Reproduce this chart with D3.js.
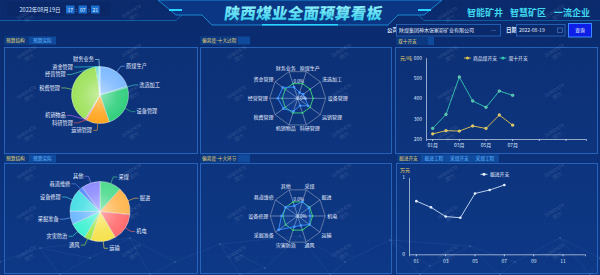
<!DOCTYPE html>
<html><head><meta charset="utf-8">
<script src="https://cdn.jsdelivr.net/npm/d3@7"></script>
<style>
html,body{margin:0;padding:0;background:#0b2e74;overflow:hidden}
svg{display:block;font-family:"Noto Sans CJK SC","Noto Sans",sans-serif}
</style></head><body><svg id="c" width="600" height="275"></svg>
<script>
// ---------- data ----------
const titleText = "陕西煤业全面预算看板";
const slogans = ["智能矿井","智慧矿区","一流企业"];
const dateText = "2022年08月19日";
const timeParts = ["17","07","21"];
const companyLabel = "公司";
const companyName = "陕煤集团神木张家峁矿业有限公司";
const dateLabel = "日期";
const queryDate = "2022-08-19";
const buttonText = "查询";

const structTabs = ["预算结构","预算实际"];
const processTab = "偏离度-十大过程";
const linkTab = "偏离度-十大环节";
const costTab = "双十开支";
const tunnelTabs = ["掘进开支","掘进工程","采煤开支","采煤工程"];

const processNames = ["原煤生产","洗选加工","设备管理","运销管理","科研管理","机销物品","税费管理","经营管理","资金管理","财务业务"];
const processShare = [72,3,86,47,2.5,1.5,139,3,3,3];
const processDeviation = [0.22,0.24,0.27,0.46,0.28,0.49,0.63,0.71,0.66,0.42];
const processBaseline = [0.55,0.55,0.55,0.55,0.55,0.55,0.55,0.55,0.55,0.55];

const linkNames = ["采煤","掘进","机电","运输","通风","灾害防治","采掘准备","设备修理","巷道维修","其他"];
const linkShare = [42,54,53.5,48.5,13,34,26,44,9,36];
const linkDeviation = [0.55,0.5,0.46,0.53,0.36,0.41,0.86,0.59,0.54,0.39];
const linkBaseline = [0.54,0.54,0.54,0.54,0.54,0.54,0.54,0.54,0.54,0.54];
const radarTopLabel = "0.0%";
const radarCenterLabel = "-0.0%";

const months = ["01月","02月","03月","04月","05月","06月","07月","08月","09月","10月","11月","12月"];
const coalCost = [225,241,239,264,252,318,268];
const doubleTenCost = [252,321,505,387,356,436,415];
const costTicks = [200,300,400,500,600];
const costSeries = ["商品煤开支","双十开支"];
const costUnit = "元/吨";

const monthsShort = ["01","02","03","04","05","06","07","08","09","10","11","12"];
const tunnelCost = [0.69,0.61,0.49,0.475,0.79,0.835,0.9];
const tunnelTicks = [0,1];
const tunnelSeries = "掘进开支";
const tunnelUnit = "万元";

const watermark = ["16000470","团力"];

// ---------- palettes ----------
const processColors = ["#7db9ff","#3fd6d0","#2fcf7c","#ffa51e","#ff5a5a","#c86bff","#9ee25c","#4fe3b5","#37e0ea","#9af0f4"];
const linkColors = ["#4edb8e","#ffb64f","#ff6b6e","#f6e24c","#9ee84c","#3ff2d2","#6db8ff","#47dfe4","#5a8cff","#8d8cff"];

// ---------- canvas ----------
const svg = d3.select("#c");
const defs = svg.append("defs");
const bg = defs.append("linearGradient").attr("id","bg").attr("x1",0).attr("y1",0).attr("x2",0).attr("y2",1);
bg.append("stop").attr("offset","0%").attr("stop-color","#0a2a6c");
bg.append("stop").attr("offset","100%").attr("stop-color","#0c3582");
svg.append("rect").attr("width",600).attr("height",275).attr("fill","url(#bg)");

const glow = defs.append("radialGradient").attr("id","pieGlow");
glow.append("stop").attr("offset","0%").attr("stop-color","#fff").attr("stop-opacity",0.45);
glow.append("stop").attr("offset","60%").attr("stop-color","#fff").attr("stop-opacity",0.12);
glow.append("stop").attr("offset","100%").attr("stop-color","#fff").attr("stop-opacity",0);

const tg = defs.append("linearGradient").attr("id","titleG").attr("x1",0).attr("y1",0).attr("x2",0).attr("y2",1);
tg.append("stop").attr("offset","0%").attr("stop-color","#a8fbff");
tg.append("stop").attr("offset","100%").attr("stop-color","#22c6ea");

// grid
const grid = svg.append("g").attr("stroke","#3a70c8").attr("stroke-opacity",0.13).attr("stroke-width",0.5);
d3.range(0,601,16).forEach(x=>grid.append("line").attr("x1",x).attr("x2",x).attr("y1",0).attr("y2",275));
d3.range(0,276,16).forEach(y=>grid.append("line").attr("y1",y).attr("y2",y).attr("x1",0).attr("x2",600));

// decorative network at bottom
const net = svg.append("g").attr("stroke","#6ea8e8").attr("stroke-opacity",0.22).attr("stroke-width",0.5).attr("fill","none");
const netPts = [[0,262],[40,248],[90,258],[130,238],[175,262],[220,244],[265,268],[300,236],[345,262],[390,240],[430,266],[470,246],[515,262],[560,238],[600,258],[60,275],[150,275],[240,275],[330,275],[420,275],[500,275],[590,275]];
const netLinks = [[0,1],[1,2],[2,3],[3,4],[4,5],[5,6],[6,7],[7,8],[8,9],[9,10],[10,11],[11,12],[12,13],[13,14],[1,15],[2,15],[3,16],[4,16],[5,17],[6,17],[7,18],[8,18],[9,19],[10,19],[11,20],[12,20],[13,21],[14,21],[1,3],[5,7],[9,11]];
netLinks.forEach(([a,b])=>net.append("line").attr("x1",netPts[a][0]).attr("y1",netPts[a][1]).attr("x2",netPts[b][0]).attr("y2",netPts[b][1]));
netPts.forEach(p=>svg.append("circle").attr("cx",p[0]).attr("cy",p[1]).attr("r",0.8).attr("fill","#8fc4ff").attr("opacity",0.4));

// ---------- header ----------
svg.append("path").attr("d","M158,0 L442,0 L424,15 L398,15 L388,25 L212,25 L202,15 L176,15 Z")
  .attr("fill","#0a3684").attr("stroke","#1e9fe8").attr("stroke-width",0.8);
svg.append("path").attr("d","M0,20.5 L176,20.5 L182,15").attr("stroke","#1e9fe8").attr("stroke-opacity",0.6).attr("fill","none").attr("stroke-width",0.7);
svg.append("path").attr("d","M600,20.5 L424,20.5 L418,15").attr("stroke","#1e9fe8").attr("stroke-opacity",0.6).attr("fill","none").attr("stroke-width",0.7);
svg.append("rect").attr("x",169).attr("y",9).attr("width",13).attr("height",2).attr("fill","#29d3ff");
svg.append("rect").attr("x",418).attr("y",9).attr("width",13).attr("height",2).attr("fill","#29d3ff");
svg.append("rect").attr("x",262).attr("y",24).attr("width",76).attr("height",1.5).attr("fill","#29d3ff");
svg.append("text").attr("x",303).attr("y",19.5).attr("text-anchor","middle").attr("font-size",15.5).attr("font-weight",900)
  .attr("letter-spacing",0.3).attr("fill","url(#titleG)").attr("transform","skewX(-8) translate(2.5,0)").text(titleText);

// date/time
svg.append("rect").attr("x",7).attr("y",2).attr("width",103).attr("height",14).attr("fill","#0a2766").attr("opacity",0.8);
svg.append("text").attr("x",40).attr("y",12).attr("text-anchor","middle").attr("font-size",5.5).attr("fill","#dfe8ff").text(dateText);
timeParts.forEach((t,i)=>{
  const x = 66 + i*12.5;
  svg.append("rect").attr("x",x).attr("y",5.5).attr("width",8.5).attr("height",8).attr("fill","#1a6fd0");
  svg.append("text").attr("x",x+4.25).attr("y",11.5).attr("text-anchor","middle").attr("font-size",5).attr("fill","#e8f4ff").text(t);
  if(i<2) svg.append("text").attr("x",x+10.5).attr("y",11.5).attr("text-anchor","middle").attr("font-size",5).attr("fill","#8fc0ff").text(":");
});

// slogans
const sloganX = [467,510,554];
slogans.forEach((s,i)=>svg.append("text").attr("x",sloganX[i]).attr("y",16).attr("font-size",9).attr("font-weight",700).attr("fill","#3fd8ee").text(s));

// query row
svg.append("text").attr("x",387).attr("y",32).attr("font-size",5.5).attr("font-weight",700).attr("fill","#e6eeff").text(companyLabel);
svg.append("rect").attr("x",396.5).attr("y",24.5).attr("width",104).attr("height",11.5).attr("fill","#0a2a6c").attr("stroke","#2b6bc4").attr("stroke-width",0.8);
svg.append("text").attr("x",399).attr("y",32).attr("font-size",5).attr("fill","#e6eeff").text(companyName);
svg.append("text").attr("x",491).attr("y",31.5).attr("font-size",5).attr("fill","#8aa8d8").text("…");
svg.append("text").attr("x",506).attr("y",32).attr("font-size",5.5).attr("font-weight",700).attr("fill","#e6eeff").text(dateLabel);
svg.append("rect").attr("x",516.5).attr("y",24.5).attr("width",48.5).attr("height",11.5).attr("fill","#0a2a6c").attr("stroke","#2b6bc4").attr("stroke-width",0.8);
svg.append("text").attr("x",519).attr("y",32).attr("font-size",5).attr("fill","#e6eeff").text(queryDate);
svg.append("rect").attr("x",557.5).attr("y",28).attr("width",5).attr("height",4.5).attr("fill","none").attr("stroke","#4f86d6").attr("stroke-width",0.6);
svg.append("rect").attr("x",568.5).attr("y",23.5).attr("width",23).attr("height",13.5).attr("fill","#0d1fe6").attr("stroke","#3c8cff").attr("stroke-width",1);
svg.append("text").attr("x",580).attr("y",32.2).attr("text-anchor","middle").attr("font-size",4.8).attr("fill","#ffffff").text(buttonText);

// ---------- panels ----------
function panel(x0,y0,x1,y1){
  svg.append("rect").attr("x",x0+0.5).attr("y",y0+0.5).attr("width",x1-x0).attr("height",y1-y0)
    .attr("fill","rgba(20,70,150,0.18)").attr("stroke","#2a68c0").attr("stroke-width",0.9);
}
function tabs(x,y,labels,w,stripW){
  svg.append("rect").attr("x",x).attr("y",y).attr("width",stripW).attr("height",8).attr("fill","#0f4a9c");
  labels.forEach((t,i)=>{
    const tx = x + i*w;
    if(i===0) svg.append("rect").attr("x",tx).attr("y",y).attr("width",w-2).attr("height",8).attr("fill","#0b387e");
    svg.append("text").attr("x",tx+2).attr("y",y+5.6).attr("font-size",4.7).attr("fill",i===0?"#e7d678":"#63b6ff").text(t);
  });
}
panel(4,47,197,153); panel(200,47,391,153); panel(395,47,597,153);
panel(4,163,197,273); panel(200,163,391,273); panel(396,163,597,273);
tabs(4,36.5,structTabs,27,52);
tabs(200,36.5,[processTab],40,50);
tabs(396,37,[costTab],34,38);
tabs(4,154.5,structTabs,27,52);
tabs(200,154.5,[linkTab],40,50);
tabs(397,154.5,tunnelTabs,25.5,102);

// ---------- pie ----------
function pie(cx,cy,r,names,vals,colors){
  const arcs = d3.pie().sort(null).value(d=>d)(vals);
  const arcGen = d3.arc().innerRadius(0).outerRadius(r);
  const gp = svg.append("g").attr("transform",`translate(${cx},${cy})`);
  gp.selectAll("path.s").data(arcs).join("path").attr("class","s").attr("d",arcGen)
    .attr("fill",(d,i)=>colors[i]).attr("stroke","rgba(255,255,255,0.75)").attr("stroke-width",0.5);
  gp.append("circle").attr("r",r).attr("fill","url(#pieGlow)");
  const len1 = 7, len2 = 4, gap = 7.5, R2 = r+len1;
  const L = arcs.map((a,i)=>{
    const m=(a.startAngle+a.endAngle)/2;
    return {i,m,side:Math.sin(m)>=0?1:-1,x0:R2*Math.sin(m),y:-R2*Math.cos(m),upper:Math.cos(m)>=0};
  });
  [1,-1].forEach(side=>{
    const up = L.filter(d=>d.side===side&&d.upper).sort((a,b)=>a.y-b.y);
    for(let k=1;k<up.length;k++) if(up[k].y<up[k-1].y+gap) up[k].y=up[k-1].y+gap;
    const lo = L.filter(d=>d.side===side&&!d.upper).sort((a,b)=>b.y-a.y);
    for(let k=1;k<lo.length;k++) if(lo[k].y>lo[k-1].y-gap) lo[k].y=lo[k-1].y-gap;
  });
  L.forEach(d=>{
    const x = Math.abs(d.y)<R2 ? d.side*Math.sqrt(R2*R2-d.y*d.y) : d.x0;
    const ex = r*Math.sin(d.m), ey = -r*Math.cos(d.m);
    gp.append("polyline").attr("points",`${ex},${ey} ${x},${d.y} ${x+d.side*len2},${d.y}`)
      .attr("fill","none").attr("stroke",colors[d.i]).attr("stroke-width",0.6);
    gp.append("text").attr("x",x+d.side*(len2+1.2)).attr("y",d.y).attr("dy","0.35em")
      .attr("text-anchor",d.side>0?"start":"end").attr("font-size",5.2).attr("fill","#e8efff").text(names[d.i]);
  });
}
pie(100,95,28.5,processNames,processShare,processColors);
pie(100,211.5,30,linkNames,linkShare,linkColors);

// ---------- radar ----------
function radar(cx,cy,R,names,vals,base){
  const n = names.length;
  const ang = i=>(18+36*i)*Math.PI/180;
  const rs = d3.scaleLinear().domain([0,1]).range([0,R]);
  const pt = (i,v)=>[cx+rs(v)*Math.sin(ang(i)), cy-rs(v)*Math.cos(ang(i))];
  const line = d3.line().curve(d3.curveLinearClosed);
  const gr = svg.append("g");
  gr.append("path").attr("d",line(d3.range(n).map(i=>pt(i,1)))).attr("fill","none").attr("stroke","#7f90b0").attr("stroke-width",0.7);
  d3.range(n).forEach(i=>{const p=pt(i,1);gr.append("line").attr("x1",cx).attr("y1",cy).attr("x2",p[0]).attr("y2",p[1]).attr("stroke","#b9c6dc").attr("stroke-width",0.5);});
  gr.append("path").attr("d",line(base.map((v,i)=>pt(i,v)))).attr("fill","none").attr("stroke","#3fd47c").attr("stroke-width",0.9);
  base.forEach((v,i)=>{const p=pt(i,v);gr.append("circle").attr("cx",p[0]).attr("cy",p[1]).attr("r",0.9).attr("fill","#3fd47c");});
  gr.append("path").attr("d",line(vals.map((v,i)=>pt(i,v)))).attr("fill","rgba(58,142,255,0.12)").attr("stroke","#3a8eff").attr("stroke-width",0.9);
  vals.forEach((v,i)=>{const p=pt(i,v);gr.append("circle").attr("cx",p[0]).attr("cy",p[1]).attr("r",1.3).attr("fill","#4a9aff");});
  gr.append("text").attr("x",cx+1).attr("y",cy-15).attr("font-size",4.5).attr("fill","#e6eeff").attr("text-anchor","middle").text(radarTopLabel);
  gr.append("text").attr("x",cx+3).attr("y",cy+1.5).attr("font-size",4.5).attr("fill","#e6eeff").attr("text-anchor","middle").text(radarCenterLabel);
  names.forEach((t,i)=>{
    const a = ang(i), s = Math.sin(a), c = Math.cos(a);
    const vert = Math.abs(s)<0.35;
    const x = cx+(R+2)*s*(vert?1.3:1), y = cy-(R+2)*c;
    const anchor = vert ? "middle" : (s>0?"start":"end");
    const dy = c>0.5 ? "0.05em" : (c<-0.5 ? "0.65em" : "0.35em");
    gr.append("text").attr("x",x).attr("y",y).attr("dy",dy).attr("text-anchor",anchor).attr("font-size",5).attr("fill","#e8efff").text(t);
  });
}
radar(297.7,98.3,28,processNames,processDeviation,processBaseline);
radar(297.7,216,27.5,linkNames,linkDeviation,linkBaseline);

// ---------- line chart: 双十开支 ----------
(function(){
  const x = d3.scaleBand().domain(months).range([426,586]);
  const y = d3.scaleLinear().domain([200,600]).range([139,57.7]);
  const cxm = (d,i)=>x(months[i])+x.bandwidth()/2;
  const gA = svg.append("g");
  const ya = gA.append("g").attr("transform","translate(426,0)").call(d3.axisLeft(y).tickValues(costTicks).tickSize(0).tickPadding(4));
  const xa = gA.append("g").attr("transform","translate(0,139)").call(d3.axisBottom(x).tickValues(months.filter((d,i)=>i%2===0)).tickSize(2).tickPadding(2).tickFormat((d,i)=>i<4?d:""));
  [ya,xa].forEach(a=>{a.select(".domain").attr("stroke","#b7c6e0").attr("stroke-width",0.8);a.selectAll("line").attr("stroke","#b7c6e0");
    a.selectAll("text").attr("font-size",5).attr("fill","#dbe6fa").attr("font-family","Noto Sans CJK SC");});
  gA.append("text").attr("x",406).attr("y",59.5).attr("font-size",5).attr("fill","#e8d46a").attr("text-anchor","middle").text(costUnit);
  const ln = d3.line().x((d,i)=>cxm(d,i)).y(d=>y(d));
  const sets = [[coalCost,"#e4c649"],[doubleTenCost,"#33c9b3"]];
  sets.forEach(([arr,col])=>{
    gA.append("path").attr("d",ln(arr)).attr("fill","none").attr("stroke",col).attr("stroke-width",0.9);
    arr.forEach((v,i)=>gA.append("circle").attr("cx",cxm(v,i)).attr("cy",y(v)).attr("r",1.4).attr("fill",col).attr("stroke","#f4f0c0").attr("stroke-width",0.3));
  });
  const lx = [467.5,503];
  costSeries.forEach((s,i)=>{
    gA.append("line").attr("x1",lx[i]-3.5).attr("x2",lx[i]+3.5).attr("y1",58).attr("y2",58).attr("stroke",sets[i][1]).attr("stroke-width",0.9);
    gA.append("circle").attr("cx",lx[i]).attr("cy",58).attr("r",1.5).attr("fill",sets[i][1]);
    gA.append("text").attr("x",lx[i]+5.5).attr("y",58).attr("dy","0.35em").attr("font-size",4.8).attr("fill","#e6eeff").text(s);
  });
})();

// ---------- line chart: 掘进开支 ----------
(function(){
  const x = d3.scaleBand().domain(monthsShort).range([409,585]);
  const y = d3.scaleLinear().domain([0,1]).range([254.3,177.3]);
  const cxm = i=>x(monthsShort[i])+x.bandwidth()/2;
  const gB = svg.append("g");
  const ya = gB.append("g").attr("transform","translate(409,0)").call(d3.axisLeft(y).tickValues(tunnelTicks).tickSize(0).tickPadding(4).tickFormat(d3.format("d")));
  const xa = gB.append("g").attr("transform","translate(0,254.3)").call(d3.axisBottom(x).tickValues(monthsShort.filter((d,i)=>i%2===0)).tickSize(2).tickPadding(3));
  [ya,xa].forEach(a=>{a.select(".domain").attr("stroke","#b7c6e0").attr("stroke-width",0.8);a.selectAll("line").attr("stroke","#b7c6e0");
    a.selectAll("text").attr("font-size",5).attr("fill","#dbe6fa").attr("font-family","Noto Sans CJK SC");});
  gB.append("text").attr("x",405).attr("y",172).attr("font-size",5).attr("fill","#e8d46a").attr("text-anchor","middle").text(tunnelUnit);
  const ln = d3.line().x((d,i)=>cxm(i)).y(d=>y(d));
  gB.append("path").attr("d",ln(tunnelCost)).attr("fill","none").attr("stroke","#c9dcf6").attr("stroke-width",0.9);
  tunnelCost.forEach((v,i)=>gB.append("circle").attr("cx",cxm(i)).attr("cy",y(v)).attr("r",1.3).attr("fill","#e8f2ff"));
  gB.append("line").attr("x1",480.5).attr("x2",487.5).attr("y1",174.3).attr("y2",174.3).attr("stroke","#c9dcf6").attr("stroke-width",0.9);
  gB.append("circle").attr("cx",484).attr("cy",174.3).attr("r",1.5).attr("fill","#e8f2ff");
  gB.append("text").attr("x",490).attr("y",174.3).attr("dy","0.35em").attr("font-size",4.8).attr("fill","#e6eeff").text(tunnelSeries);
})();

// ---------- watermarks ----------
const wm = svg.append("g").attr("fill","#c8d4ea").attr("fill-opacity",0.22).attr("font-size",5).attr("pointer-events","none");
[27,132,237,342,448,555].forEach((x,ci)=>{
  [15,54,94,134,174,214,254].forEach((y,ri)=>{
    const yy = y + (ci%2===1 ? -2 : 0);
    const t = wm.append("g").attr("transform",`translate(${x},${yy}) rotate(-30)`);
    t.append("text").attr("text-anchor","middle").text(watermark[0]);
    t.append("text").attr("y",6).attr("text-anchor","middle").text(watermark[1]);
  });
});
</script></body></html>
